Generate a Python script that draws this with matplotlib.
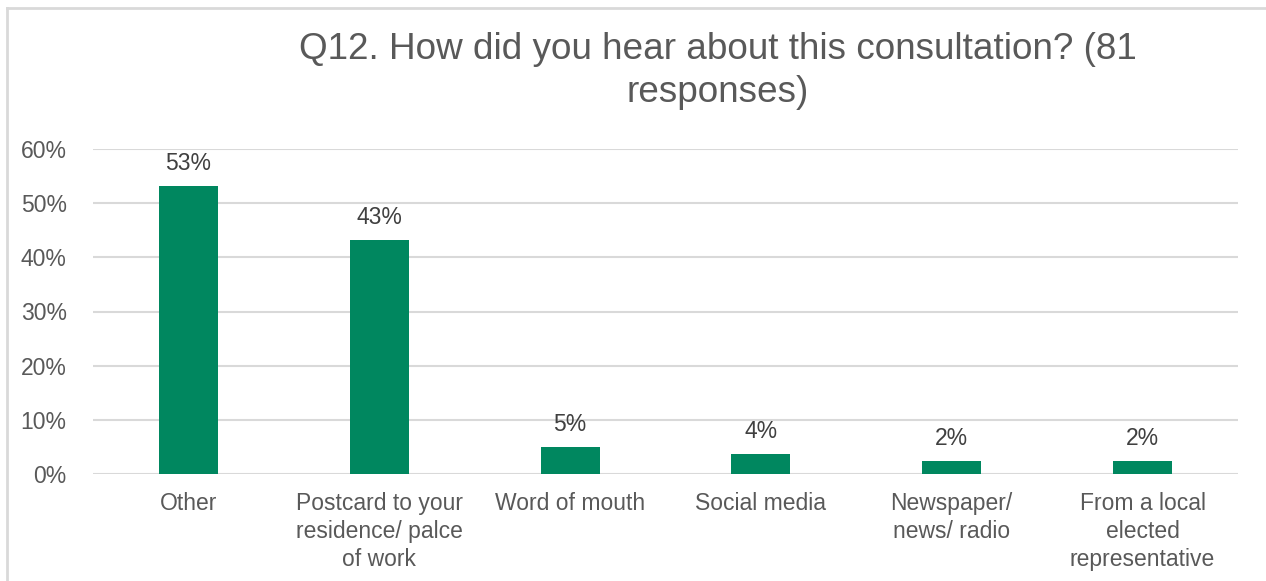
import numpy as np
import matplotlib.pyplot as plt
from matplotlib.ticker import PercentFormatter

plt.rcParams['font.family'] = ['Liberation Sans', 'DejaVu Sans']

categories = ['Other', 'Postcard to your\nresidence/ palce\nof work', 'Word of mouth',
              'Social media', 'Newspaper/\nnews/ radio', 'From a local\nelected\nrepresentative']
counts = [43, 35, 4, 3, 2, 2]
total = 81
shares = [c / total for c in counts]

bar_color = '#00875f'
text_color = '#595959'
grid_color = '#d9d9d9'

fig = plt.figure(figsize=(12.66, 5.81), dpi=100)
ax = fig.add_axes([93 / 1266, 1 - 474 / 581, (1238 - 93) / 1266, (474 - 149) / 581])

x = np.arange(len(categories))
ax.bar(x, shares, width=0.31, color=bar_color, zorder=3)
for xi, v in zip(x, shares):
    ax.annotate(f'{v:.0%}', (xi, v), xytext=(0, 8), textcoords='offset points',
                ha='center', va='bottom', fontsize=16.5, color='#404040')

ax.set_xlim(-0.5, len(categories) - 0.5)
ax.set_ylim(0, 0.6)
ax.set_yticks(np.arange(0, 0.61, 0.1))
ax.yaxis.set_major_formatter(PercentFormatter(1.0, decimals=0))
ax.set_xticks(x)
ax.set_xticklabels(categories, linespacing=1.27)
ax.tick_params(axis='both', length=0, labelsize=16.5, labelcolor=text_color)
ax.tick_params(axis='y', pad=19)
ax.tick_params(axis='x', pad=13)
ax.grid(axis='y', color=grid_color, linewidth=1.5, zorder=0)
for s in ax.spines.values():
    s.set_visible(False)

fig.text(718 / 1266, 1 - 71 / 581, 'Q12. How did you hear about this consultation? (81\nresponses)',
         ha='center', va='center', fontsize=26.6, color=text_color, linespacing=1.31)

# light frame around the chart area (left and top edges)
fig.add_artist(plt.Line2D([7 / 1266, 7 / 1266], [0, 1 - 8 / 581], color=grid_color, linewidth=2,
                          transform=fig.transFigure))
fig.add_artist(plt.Line2D([7 / 1266, 1], [1 - 8 / 581, 1 - 8 / 581], color=grid_color, linewidth=2,
                          transform=fig.transFigure))

fig.savefig('out.png', dpi=100)
